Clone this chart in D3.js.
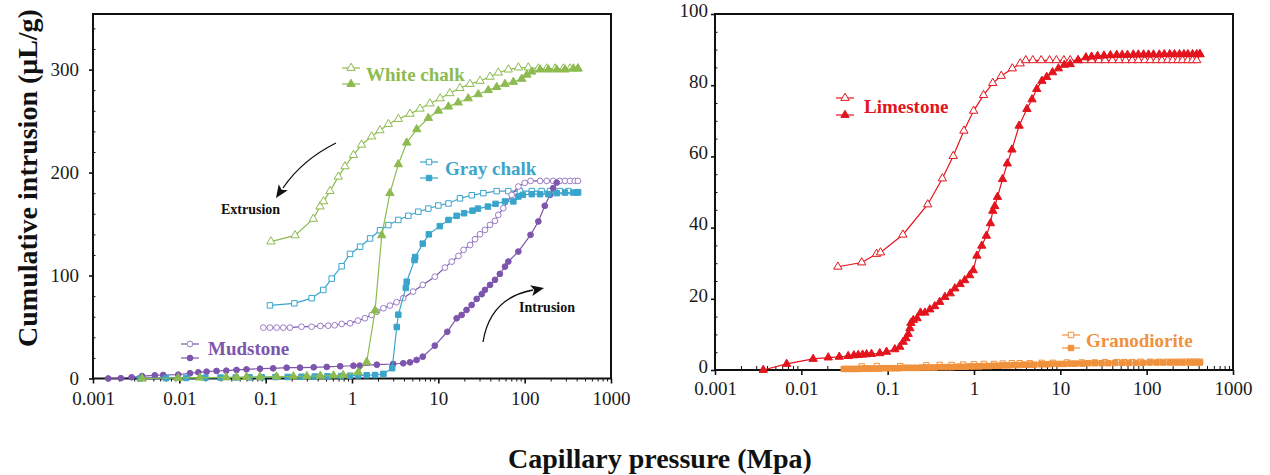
<!DOCTYPE html>
<html>
<head>
<meta charset="utf-8">
<script src="https://cdn.jsdelivr.net/npm/d3@7"></script>
<style>
  body { margin: 0; background: #fff; }
  svg { display: block; }
  text { font-family: "Liberation Serif", "Times New Roman", serif; }
</style>
</head>
<body>
<svg id="chart" width="1270" height="475"></svg>
<script>
// ---- axis ticks ----
const xTicks = [0.001, 0.01, 0.1, 1, 10, 100, 1000];
const xTickLabels = ["0.001", "0.01", "0.1", "1", "10", "100", "1000"];
const leftYTicks = [0, 100, 200, 300];
const rightYTicks = [0, 20, 40, 60, 80, 100];

// ---- mercury porosimetry curves: [pressure (MPa), cumulative intrusion (µL/g)] ----
const whiteChalkExtrusion = [
  [0.115,133],[0.219,139],[0.356,155],[0.426,167],[0.468,172],[0.556,182],[0.695,196],[0.83,206],
  [1.04,217],[1.29,227],[1.69,235],[2.11,241],[2.64,247],[3.44,252],[4.70,257],[6.14,262],[8.0,267],
  [10.5,272],[13.6,277],[17.8,282],[23.3,286],[30.4,289],[39.7,293],[49.5,297],[64.7,300],[84.5,302],
  [110,302],[144,301],[180,301],[225,301],[281,301],[335,301],[414,301]
];
const whiteChalkIntrusion = [
  [0.0037,0],[0.0097,0.5],[0.0173,0.8],[0.035,1],[0.046,1.2],[0.060,1.4],[0.086,1.6],[0.134,1.8],
  [0.209,2],[0.30,2.2],[0.43,2.5],[0.61,2.8],[0.79,3.2],[1.18,6],[1.48,16],[1.85,66],[2.21,139],
  [2.75,180],[3.44,208],[4.30,229],[5.62,242],[7.66,253],[10,260],[13.1,264],[17,268],[22.2,272],
  [29,276],[37.9,280],[47.4,283],[59.2,286],[74,288],[92.4,291],[106,295],[121,298],[151,300],
  [188,300],[235,300],[293,300],[366,301],[414,301]
];
const grayChalkExtrusion = [
  [0.112,71],[0.215,73],[0.341,78],[0.465,86],[0.582,97],[0.759,109],[0.948,121],[1.24,128],
  [1.62,136],[2.11,144],[2.64,149],[3.44,154],[4.49,158],[5.86,162],[7.66,165],[10,168],[13.1,170],
  [17.8,175],[24.4,178],[33.2,180],[47.4,182],[64.7,182],[88.3,182],[121,182],[157,182],[197,182],
  [257,182],[321,182],[414,181]
];
const grayChalkIntrusion = [
  [0.0035,0],[0.007,0.3],[0.012,0.5],[0.02,0.7],[0.03,0.9],[0.045,1],[0.065,1.1],[0.09,1.2],
  [0.13,1.4],[0.18,1.5],[0.26,1.7],[0.37,1.9],[0.52,2.1],[0.75,2.4],[0.95,2.7],[1.18,3],[1.48,3.2],
  [1.85,3.4],[2.31,4.5],[2.92,10],[3.3,50],[3.44,62],[4.2,88],[4.3,94],[5.3,115],[5.4,118],
  [6.6,131],[7.76,140],[10.4,148],[13.1,154],[16.3,158],[19.9,160.5],[24.9,163],[28.8,165],
  [37.5,167],[46,169.6],[59.2,172],[74,172],[84.5,176.7],[95,178.3],[121,179],[151,179],[188,179],
  [235,180],[293,180.6],[366,180.6],[414,180.6]
];
const mudstoneExtrusion = [
  [0.094,49.4],[0.112,49.4],[0.134,49.4],[0.160,49.4],[0.191,49.4],[0.26,50.3],[0.34,50.3],[0.43,51],
  [0.53,51.3],[0.63,51.7],[0.76,53],[0.95,53.6],[1.17,56.2],[1.41,58.5],[1.69,61.7],[1.94,64.9],
  [2.31,68.2],[2.75,70.8],[3.28,74.1],[3.92,78],[5.1,84.4],[6.6,90.9],[9.1,98.9],[11.9,107.7],
  [14.3,113.5],[17.1,119],[19.6,124.9],[23.3,129.7],[26.6,135.3],[30.4,140.1],[34.7,144.3],
  [39.7,149.2],[45.3,153.1],[49.5,158.9],[56.6,165.4],[70.7,178.3],[84.5,186.4],[100,190],
  [117,191.9],[151,191.9],[180,191.9],[214,191.9],[255,191.9],[293,191.9],[335,191.9],[381,191.9],
  [414,191.9]
];
const mudstoneIntrusion = [
  [0.0015,0],[0.0021,0.3],[0.0028,1.2],[0.0037,2.4],[0.0052,3.1],[0.0065,3.4],[0.0097,3.7],
  [0.0133,5.1],[0.0166,6],[0.0207,6.6],[0.027,7.3],[0.035,7.6],[0.046,8.3],[0.06,8.9],[0.086,9.5],
  [0.122,9.9],[0.175,10.5],[0.25,10.5],[0.36,10.9],[0.51,11.2],[0.73,11.9],[1.04,12.4],[1.23,12.5],
  [1.94,13.4],[3.0,14.1],[3.92,14.8],[4.7,15.7],[5.6,18],[6.6,21.2],[9.1,31.9],[12.7,45.4],
  [16.3,58.5],[18.6,61.7],[21.2,66.6],[24.3,71.4],[27.8,77.3],[31.8,81.9],[34.7,86.1],[39.7,90.9],
  [45.3,95.8],[51.6,101.6],[59.2,108.7],[64.7,113.6],[84.5,123.3],[117,139.5],[144,152.5],
  [171,167.7],[197,178.4],[214,184.8],[235,190.3]
];
const limestoneExtrusion = [
  [0.0265,29],[0.050,30.2],[0.0744,32.6],[0.0826,33],[0.150,38],[0.291,46.5],[0.43,53.8],[0.575,60.1],
  [0.764,67.2],[0.99,72.8],[1.29,77.2],[1.65,80.6],[2.07,82.6],[2.78,84.7],[3.43,86.1],[3.98,87],
  [4.8,87],[6,87],[7.5,87],[9,87],[11,87],[13,87],[16,87],[19,87],[23,87],[28,87],[33,87],[40,87],
  [48,87],[57,87],[68,87],[80,87],[95,87],[110,87],[130,87],[150,87],[175,87],[200,87],[230,87],
  [260,87],[300,87],[340,87],[380,87],[414,88.7]
];
const limestoneIntrusion = [
  [0.00362,0],[0.00676,1.7],[0.0137,3.1],[0.0205,3.5],[0.0275,3.7],[0.0349,3.9],[0.0406,4.1],
  [0.0456,4.2],[0.0512,4.3],[0.057,4.4],[0.065,4.5],[0.081,4.7],[0.097,5.1],[0.121,5.8],[0.138,6.5],
  [0.151,7.9],[0.163,8.9],[0.173,10.1],[0.181,11.7],[0.186,13.2],[0.198,14],[0.219,14.5],[0.240,16.1],
  [0.270,16.1],[0.308,17],[0.351,17.9],[0.40,19.1],[0.46,20.5],[0.53,21.5],[0.60,22.9],[0.69,24.1],
  [0.78,25.2],[0.89,26.6],[0.98,28],[1.08,32.1],[1.23,34.9],[1.39,37.7],[1.55,41.2],[1.65,44.7],
  [1.74,46],[1.87,48.6],[2.14,53.6],[2.43,58],[2.75,61.9],[3.33,68.6],[4.1,73.3],[4.7,76],[5.33,78.9],
  [6.12,81.2],[6.95,82.3],[8.13,83.6],[9.5,84.7],[11.1,85.7],[13,85.9],[16.1,87],[19.8,87.8],[23,88],
  [27,88.2],[32,88.3],[38,88.4],[45,88.5],[52,88.5],[60,88.5],[70,88.6],[80,88.6],[92,88.6],
  [105,88.6],[120,88.6],[140,88.6],[160,88.7],[185,88.7],[210,88.7],[240,88.7],[270,88.7],
  [300,88.7],[340,88.7],[380,88.7],[414,88.7]
];
const granodioriteExtrusion = [
  [0.05,1.0],[0.075,1.1],[0.14,1.1],[0.28,1.3],[0.4,1.4],[0.55,1.4],[0.75,1.5],[1.0,1.6],[1.3,1.7],
  [1.7,1.7],[2.15,1.8],[2.74,1.9],[3.39,1.9],[4.43,1.9],[6.1,2.0],[8.2,2.0],[11.9,2.1],[17.7,2.1],
  [25,2.1],[33,2.2],[45,2.2],[55,2.2],[68,2.2],[85,2.3],[110,2.3],[140,2.3],[170,2.3],[200,2.3],
  [230,2.3],[260,2.3],[290,2.3],[320,2.3],[350,2.3],[380,2.3],[414,2.3]
];
const granodioriteIntrusion = [
  [0.031,0.3],[0.034,0.3],[0.037,0.3],[0.041,0.3],[0.045,0.3],[0.05,0.4],[0.055,0.4],[0.06,0.4],
  [0.066,0.4],[0.073,0.4],[0.08,0.4],[0.09,0.5],[0.1,0.5],[0.11,0.5],[0.12,0.5],[0.135,0.5],
  [0.15,0.6],[0.165,0.6],[0.18,0.6],[0.2,0.6],[0.22,0.6],[0.25,0.7],[0.28,0.7],[0.31,0.7],[0.35,0.7],
  [0.4,0.8],[0.45,0.8],[0.5,0.8],[0.56,0.8],[0.63,0.9],[0.7,0.9],[0.8,0.9],[0.9,1.0],[1.0,1.0],
  [1.15,1.0],[1.3,1.1],[1.5,1.1],[1.7,1.2],[1.95,1.2],[2.2,1.3],[2.5,1.3],[2.9,1.4],[3.3,1.4],
  [3.8,1.5],[4.4,1.5],[5,1.5],[6,1.6],[7,1.6],[8,1.7],[9.5,1.7],[11,1.7],[13,1.8],[15,1.8],[18,1.8],
  [21,1.9],[25,1.9],[30,1.9],[36,1.9],[43,2.0],[52,2.0],[62,2.0],[75,2.0],[90,2.0],[108,2.1],
  [130,2.1],[155,2.1],[185,2.1],[220,2.1],[260,2.1],[310,2.1],[360,2.1],[414,2.1]
];

// ---- colours ----
const cWhite = "#8dbb4f", cGray = "#3aa5cc", cMud = "#7d55ad", cMudLight = "#9a7cc6",
      cLime = "#e3141d", cGrano = "#f0913c";

const svg = d3.select("#chart");

// ---- panels ----
const left = {
  x: d3.scaleLog().domain([0.001, 1000]).range([93, 611]),
  y: d3.scaleLinear().domain([0, 354]).range([378.5, 14]),
  yTicks: leftYTicks, yMinorStep: 20, yPad: 10, yDy: "0.3em", xLabelY: 26.5, xMinorIn: false
};
const right = {
  x: d3.scaleLog().domain([0.001, 1000]).range([715, 1233]),
  y: d3.scaleLinear().domain([0, 100]).range([370, 14]),
  yTicks: rightYTicks, yMinorStep: 5, yPad: 3, yDy: "0.12em", xLabelY: 24.5, xMinorIn: true
};

function minorDecades() {
  const m = [];
  for (let e = -3; e < 3; e++) for (let k = 2; k <= 9; k++) m.push(k * Math.pow(10, e));
  return m;
}

function drawAxes(p) {
  const [x0, x1] = p.x.range(), [yb, yt] = p.y.range();
  const g = svg.append("g");
  // minor ticks on x
  const minorX = g.append("g").attr("transform", `translate(0,${yb})`)
    .call(d3.axisBottom(p.x).tickValues(minorDecades()).tickFormat("")
      .tickSize(p.xMinorIn ? -4 : 3).tickSizeOuter(0));
  minorX.select(".domain").remove();
  minorX.selectAll("line").attr("stroke", "#111").attr("stroke-width", 1);
  // major ticks on x
  const majX = g.append("g").attr("transform", `translate(0,${yb})`)
    .call(d3.axisBottom(p.x).tickValues(xTicks).tickFormat((d, i) => xTickLabels[i])
      .tickSize(5).tickSizeOuter(0));
  majX.select(".domain").remove();
  majX.selectAll("line").attr("stroke", "#111").attr("stroke-width", 1.6);
  majX.selectAll("text").attr("y", p.xLabelY).attr("dy", 0)
    .style("font-size", "19px").attr("fill", "#1a1a1a");
  // minor ticks on y
  const yMinor = d3.range(0, p.y.domain()[1] + 0.01, p.yMinorStep).filter(v => !p.yTicks.includes(v));
  const minorY = g.append("g").attr("transform", `translate(${x0},0)`)
    .call(d3.axisLeft(p.y).tickValues(yMinor).tickFormat("").tickSize(-2.5).tickSizeOuter(0));
  minorY.select(".domain").remove();
  minorY.selectAll("line").attr("stroke", "#111").attr("stroke-width", 1);
  // major ticks on y
  const majY = g.append("g").attr("transform", `translate(${x0},0)`)
    .call(d3.axisLeft(p.y).tickValues(p.yTicks).tickSize(4).tickPadding(p.yPad).tickSizeOuter(0));
  majY.select(".domain").remove();
  majY.selectAll("line").attr("stroke", "#111").attr("stroke-width", 1.6);
  majY.selectAll("text").style("font-size", "19px").attr("fill", "#1a1a1a").attr("dy", p.yDy);
  // frame
  g.append("rect").attr("x", x0).attr("y", yt).attr("width", x1 - x0).attr("height", yb - yt)
    .attr("fill", "none").attr("stroke", "#111").attr("stroke-width", 2);
}

function marker(sel, shape, color, filled, size) {
  const sym = { tri: d3.symbolTriangle, circ: d3.symbolCircle, sq: d3.symbolSquare }[shape];
  sel.append("path").attr("d", d3.symbol().type(sym).size(size))
    .attr("fill", filled ? color : "#fff").attr("stroke", color).attr("stroke-width", 1);
}

const sizes = { tri: 30, circ: 26, sq: 30 };

function drawSeries(p, data, color, shape, filled, strokeColor) {
  const g = svg.append("g");
  const line = d3.line().x(d => p.x(d[0])).y(d => p.y(d[1]));
  g.append("path").datum(data).attr("d", line).attr("fill", "none")
    .attr("stroke", color).attr("stroke-width", 1.2);
  g.selectAll("g.pt").data(data).enter().append("g")
    .attr("transform", d => `translate(${p.x(d[0])},${p.y(d[1])})`)
    .each(function () { marker(d3.select(this), shape, strokeColor || color, filled, sizes[shape]); });
}

function legend(x, yOpen, yFilled, textX, textY, label, color, shape, openColor) {
  const g = svg.append("g");
  [[yOpen, false], [yFilled, true]].forEach(([yy, filled]) => {
    g.append("line").attr("x1", x).attr("x2", x + 18).attr("y1", yy).attr("y2", yy)
      .attr("stroke", color).attr("stroke-width", 1.2);
    const m = g.append("g").attr("transform", `translate(${x + 9},${yy})`);
    marker(m, shape, filled ? color : (openColor || color), filled, sizes[shape]);
  });
  g.append("text").attr("x", textX).attr("y", textY).text(label)
    .attr("fill", color).style("font-size", "19px").style("font-weight", "bold");
}

drawAxes(left);
drawAxes(right);

// left panel curves
drawSeries(left, whiteChalkExtrusion, cWhite, "tri", false);
drawSeries(left, grayChalkExtrusion, cGray, "sq", false);
drawSeries(left, mudstoneExtrusion, cMud, "circ", false, cMudLight);
drawSeries(left, mudstoneIntrusion, cMud, "circ", true);
drawSeries(left, grayChalkIntrusion, cGray, "sq", true);
drawSeries(left, whiteChalkIntrusion, cWhite, "tri", true);

// right panel curves
drawSeries(right, limestoneExtrusion, cLime, "tri", false);
drawSeries(right, limestoneIntrusion, cLime, "tri", true);
drawSeries(right, granodioriteExtrusion, cGrano, "sq", false);
drawSeries(right, granodioriteIntrusion, cGrano, "sq", true);

// legends
legend(342, 68, 84, 366, 81, "White chalk", cWhite, "tri");
legend(420, 162, 178, 445, 175, "Gray chalk", cGray, "sq");
legend(181, 344, 358, 208, 355, "Mudstone", cMud, "circ", cMudLight);
legend(836, 98, 115, 864, 113, "Limestone", cLime, "tri");
legend(1062, 335, 348, 1086, 347, "Granodiorite", cGrano, "sq");

// process arrows
function arrow(d, tip, angle, label, lx, ly) {
  const g = svg.append("g");
  g.append("path").attr("d", d).attr("fill", "none").attr("stroke", "#111").attr("stroke-width", 1.3);
  g.append("path").attr("d", "M0,0 L-13,-5.5 L-10,0 L-13,5.5 Z").attr("fill", "#111")
    .attr("transform", `translate(${tip[0]},${tip[1]}) rotate(${angle})`);
  g.append("text").attr("x", lx).attr("y", ly).text(label)
    .style("font-size", "14px").style("font-weight", "bold").attr("fill", "#111");
}
arrow("M336,143 Q302,160 283,188", [276, 198], 124, "Extrusion", 221, 214);
arrow("M483,342 Q490,298 533,290", [544, 288], -12, "Intrusion", 519, 312);

// axis titles
svg.append("text").attr("transform", "translate(37,178) rotate(-90)")
  .attr("text-anchor", "middle").style("font-size", "28px").style("font-weight", "bold")
  .attr("fill", "#111").text("Cumulative intrusion (μL/g)");
svg.append("text").attr("x", 660).attr("y", 468).attr("text-anchor", "middle")
  .style("font-size", "28px").style("font-weight", "bold").attr("fill", "#111")
  .text("Capillary pressure (Mpa)");
</script>
</body>
</html>
